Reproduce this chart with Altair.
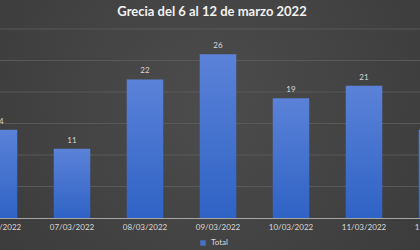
import altair as alt
import pandas as pd

fechas = ["06/03/2022", "07/03/2022", "08/03/2022", "09/03/2022",
          "10/03/2022", "11/03/2022", "12/03/2022"]
totales = [14, 11, 22, 26, 19, 21, 14]
serie = ["Total"] * len(fechas)
titulo = "Grecia del 6 al 12 de marzo 2022"
marcas_y = [5, 10, 15, 20, 25, 30]

df = pd.DataFrame({"fecha": fechas, "total": totales, "serie": serie})
grid_df = pd.DataFrame({"v": marcas_y})
bg_df = pd.DataFrame({"k": [0]})
title_df = pd.DataFrame({"t": [titulo]})

FONT = "Lato"
TXT = "#d9d9d9"

grad_bar = alt.LinearGradient(
    gradient="linear",
    stops=[alt.GradientStop(offset=0, color="#5b82d8"),
           alt.GradientStop(offset=1, color="#2f63c5")],
    x1=0, x2=0, y1=0, y2=1,
)
grad_bg = alt.RadialGradient(
    gradient="radial",
    stops=[alt.GradientStop(offset=0, color="#4c4c4c"),
           alt.GradientStop(offset=1, color="#383838")],
    x1=0.5, y1=0.45, r1=0, x2=0.5, y2=0.45, r2=0.75,
)

background = alt.Chart(bg_df).mark_rect(fill=grad_bg).encode(
    x=alt.value(0), x2=alt.value(420), y=alt.value(-29), y2=alt.value(221)
)

yscale = alt.Scale(domain=[0, 30], nice=False)

grid = alt.Chart(grid_df).mark_rule(color="#595959", strokeWidth=1).encode(
    y=alt.Y("v:Q", scale=yscale, axis=None)
)

x = alt.X(
    "fecha:N", sort=fechas,
    scale=alt.Scale(range=[-37.5, 473.5], paddingInner=0.5, paddingOuter=0.25),
    axis=alt.Axis(title=None, labelAngle=0, labelColor=TXT, labelFontSize=8,
                  labelFont=FONT, ticks=False, domainColor="#a6a6a6",
                  labelPadding=5, grid=False, zindex=1),
)
y = alt.Y("total:Q", scale=yscale, axis=None)

bars = alt.Chart(df).mark_bar(fill=grad_bar).encode(
    x=x, y=y,
    color=alt.Color("serie:N", scale=alt.Scale(range=["#4472c4"]),
                    legend=alt.Legend(title=None, orient="none", legendX=199,
                                      legendY=210, labelColor=TXT,
                                      labelFontSize=8, labelFont=FONT,
                                      symbolType="square", symbolSize=30,
                                      symbolStrokeWidth=0)),
)

labels = alt.Chart(df).mark_text(
    dy=-4, baseline="bottom", fontSize=8, color=TXT, font=FONT
).encode(x=alt.X("fecha:N", sort=fechas), y="total:Q", text="total:Q")

title = alt.Chart(title_df).mark_text(
    fontSize=13, font=FONT, fontWeight="bold", color="#f2f2f2",
    align="center", baseline="middle"
).encode(x=alt.value(212), y=alt.value(-17), text="t:N")

chart = alt.layer(background, grid, bars, labels, title).properties(
    width=420, height=189,
    padding={"left": 0, "top": 29, "right": 0, "bottom": 32},
    autosize=alt.AutoSizeParams(type="none"),
).configure(background="#444444").configure_view(stroke=None)

chart.save("out.html", embed_options={"renderer": "svg", "actions": False})
